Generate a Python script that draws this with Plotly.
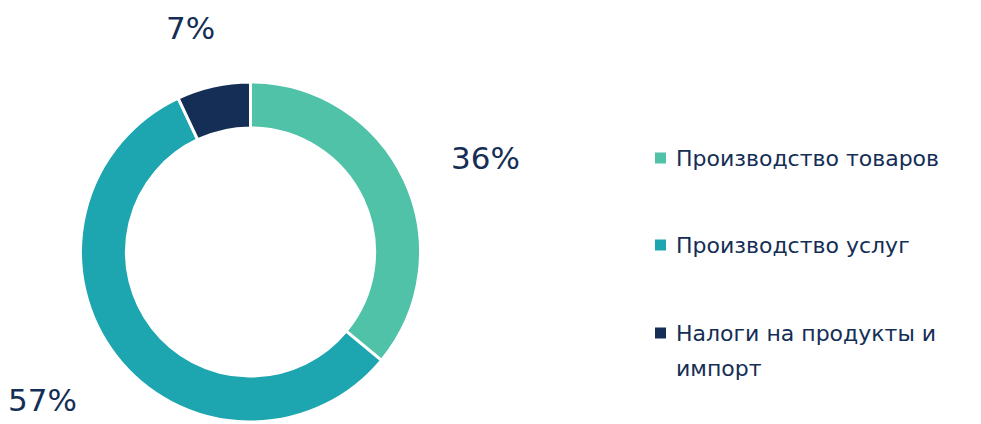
import plotly.graph_objects as go

categories = ["Производство товаров", "Производство услуг", "Налоги на продукты и импорт"]
values = [36, 57, 7]
colors = ["#4FC2A7", "#1DA6B0", "#142E55"]
legend_lines = [["Производство товаров"], ["Производство услуг"], ["Налоги на продукты и", "импорт"]]

W, H = 981, 424
NAVY = "#142E55"
FONT = "DejaVu Sans"

def px(x):
    return x / W

def py(y):
    return 1 - y / H

fig = go.Figure()
fig.add_trace(go.Pie(
    labels=categories,
    values=values,
    marker=dict(colors=colors, line=dict(color="white", width=3)),
    hole=0.73,
    sort=False,
    direction="clockwise",
    rotation=0,
    textinfo="none",
    hoverinfo="label+percent",
    showlegend=False,
    domain=dict(x=[px(80), px(421)], y=[py(422), py(82)]),
))

# percentage labels placed outside the ring
label_pos = [(485, 158), (42, 400), (190, 28)]
annotations = []
for v, (lx, ly) in zip(values, label_pos):
    annotations.append(dict(
        x=px(lx), y=py(ly), xref="paper", yref="paper",
        text=f"{v}%", showarrow=False, xanchor="center", yanchor="middle",
        font=dict(family=FONT, size=31, color=NAVY),
    ))

# custom legend
shapes = []
legend_y = [158, 245, 333]
line_gap = 35
for lines, col, ly in zip(legend_lines, colors, legend_y):
    shapes.append(dict(
        type="rect", xref="paper", yref="paper",
        x0=px(655), x1=px(666), y0=py(ly + 5.5), y1=py(ly - 5.5),
        fillcolor=col, line=dict(width=0),
    ))
    for i, t in enumerate(lines):
        annotations.append(dict(
            x=px(674), y=py(ly + i * line_gap), xref="paper", yref="paper",
            text=t, showarrow=False, xanchor="left", yanchor="middle",
            font=dict(family=FONT, size=22, color=NAVY),
        ))

fig.update_layout(
    width=W, height=H,
    margin=dict(l=0, r=0, t=0, b=0),
    paper_bgcolor="white", plot_bgcolor="white",
    annotations=annotations, shapes=shapes,
    showlegend=False,
)

fig.write_html("out.html")
